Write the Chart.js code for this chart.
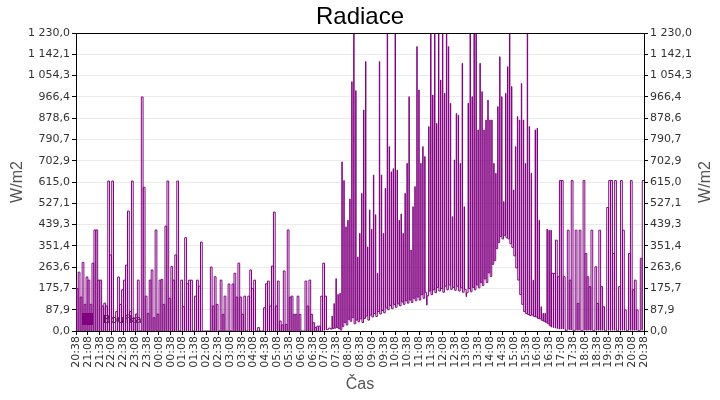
<!DOCTYPE html>
<html>
<head>
<meta charset="utf-8">
<script src="https://cdn.jsdelivr.net/npm/chart.js@4.4.0/dist/chart.umd.min.js"></script>
<style>
  html, body { margin: 0; padding: 0; background: #fff; }
</style>
</head>
<body>
<canvas id="radiace" width="720" height="400"></canvas>
<script>
// x axis labels, one every 30 minutes
var xTicks = [
    "20:38", "21:08", "21:38", "22:08", "22:38", "23:08", "23:38", "00:08", "00:38", "01:08",
    "01:38", "02:08", "02:38", "03:08", "03:38", "04:08", "04:38", "05:08", "05:38", "06:08",
    "06:38", "07:08", "07:38", "08:08", "08:38", "09:08", "09:38", "10:08", "10:38", "11:08",
    "11:38", "12:08", "12:38", "13:08", "13:38", "14:08", "14:38", "15:08", "15:38", "16:08",
    "16:38", "17:08", "17:38", "18:08", "18:38", "19:08", "19:38", "20:08", "20:38"
];
var yTicks = [
    "0,0", "87,9", "175,7", "263,6", "351,4", "439,3", "527,1", "615,0",
    "702,9", "790,7", "878,6", "966,4", "1 054,3", "1 142,1", "1 230,0"
];

var stepMin = 5;    // one sample every 5 minutes from 20:38

// peaks (W/m2), 20:38 - 07:18
var nightPeaks = [
    210, 175, 243, 140, 283, 110, 223, 210, 110, 280,
    417, 417, 210, 210, 103, 115, 103, 619, 314, 619,
    0, 80, 223, 110, 170, 210, 272, 495, 80, 619,
    52, 70, 210, 0, 966, 593, 144, 73, 210, 252,
    55, 417, 70, 210, 213, 110, 433, 619, 135, 266,
    210, 314, 619, 0, 210, 100, 385, 195, 210, 210,
    0, 144, 210, 185, 367, 0, 0, 0, 0, 264,
    103, 224, 110, 0, 210, 69, 144, 0, 194, 0,
    194, 238, 140, 280, 140, 69, 144, 0, 144, 252,
    175, 210, 0, 14, 0, 0, 96, 195, 206, 103,
    268, 491, 103, 206, 41, 25, 248, 27, 417, 140,
    144, 69, 69, 144, 69, 0, 0, 206, 103, 210,
    69, 34, 14, 20, 20, 144, 280, 144, 7
];
var nightFloor = [
    0, 0, 0, 0, 0, 0, 0, 0, 0, 0,
    0, 0, 0, 0, 0, 0, 0, 0, 0, 0,
    0, 0, 0, 0, 0, 0, 0, 0, 0, 0,
    0, 0, 0, 0, 0, 0, 0, 0, 0, 0,
    0, 0, 0, 0, 0, 0, 0, 0, 0, 0,
    0, 0, 0, 0, 0, 0, 0, 0, 0, 0,
    0, 0, 0, 0, 0, 0, 0, 0, 0, 0,
    0, 0, 0, 0, 0, 0, 0, 0, 0, 0,
    0, 0, 0, 0, 0, 0, 0, 0, 0, 0,
    0, 0, 0, 0, 0, 0, 0, 0, 0, 0,
    0, 0, 0, 0, 0, 0, 0, 0, 0, 0,
    0, 0, 0, 0, 0, 0, 0, 0, 0, 0,
    0, 0, 0, 0, 0, 0, 3, 5, 7
];

// 07:23 - 16:38
var dayPeaks = [
    12, 62, 113, 216, 151, 156, 698, 621, 430, 457,
    545, 1029, 1230, 992, 305, 403, 568, 912, 1112, 347,
    500, 420, 644, 480, 238, 1112, 644, 403, 589, 1230,
    761, 657, 670, 1230, 664, 457, 483, 403, 568, 692,
    967, 334, 513, 596, 1174, 995, 692, 761, 720, 107,
    844, 1230, 974, 1230, 857, 1230, 1036, 1230, 981, 1230,
    1174, 940, 472, 706, 898, 891, 692, 1105, 513, 142,
    940, 1230, 967, 1230, 1230, 830, 1105, 988, 830, 871,
    953, 871, 871, 692, 651, 926, 1132, 967, 534, 981,
    1091, 1230, 1009, 582, 761, 885, 871, 1022, 871, 692,
    1230, 844, 651, 210, 830, 837, 457, 100, 73, 73,
    420, 416
];
var dayFloor = [
    8, 10, 12, 14, 10, 4, 18, 35, 25, 48,
    40, 55, 30, 45, 38, 50, 35, 52, 62, 45,
    66, 58, 72, 60, 80, 70, 85, 75, 95, 88,
    105, 92, 110, 98, 112, 104, 120, 110, 125, 115,
    128, 118, 135, 125, 140, 128, 150, 135, 160, 145,
    165, 150, 170, 158, 180, 165, 175, 160, 185, 170,
    190, 172, 180, 168, 185, 165, 178, 160, 172, 158,
    175, 162, 180, 170, 190, 178, 200, 188, 215, 200,
    240, 225, 275, 290, 340, 365, 390, 380, 395, 385,
    380, 360, 345, 310, 260, 210, 150, 110, 80, 72,
    68, 64, 66, 60, 58, 52, 50, 44, 40, 36,
    30, 22
];

// 16:43 - 20:38
var eveningPeaks = [
    416, 238, 238, 375, 224, 621, 621, 224, 0, 416,
    210, 621, 0, 416, 114, 416, 0, 621, 320, 224,
    183, 416, 0, 265, 114, 416, 183, 100, 0, 510,
    621, 621, 320, 621, 0, 183, 621, 416, 87, 0,
    320, 621, 170, 210, 87, 0, 300, 621
];
var eveningFloor = [
    16, 14, 12, 10, 8, 8, 8, 8, 6, 5,
    4, 3, 3, 3, 3, 3, 3, 3, 3, 3,
    3, 3, 3, 3, 3, 3, 3, 3, 3, 3,
    3, 3, 3, 3, 3, 3, 3, 3, 3, 3,
    3, 3, 3, 3, 3, 3, 3, 3
];

// how many minutes a peak is held before it falls back to the floor
var nightSpike = 0.6;
var daySpike = 4;
var eveningSpike = 0.6;

var points = [];
var bin = 0;
function addSegment(peaks, floors, hold) {
    for (var i = 0; i < peaks.length; i++) {
        points.push({x: bin * stepMin, y: peaks[i]});
        points.push({x: bin * stepMin + hold, y: floors[i]});
        bin++;
    }
}
addSegment(nightPeaks, nightFloor, nightSpike);
addSegment(dayPeaks, dayFloor, daySpike);
addSegment(eveningPeaks, eveningFloor, eveningSpike);

var purple = '#800080';
var tickFont = {family: 'DejaVu Sans', size: 11};
var titleFont = {family: 'Liberation Sans', size: 16};

function yTickValues(scale) {
    scale.ticks = yTicks.map(function (t) {
        return {value: parseFloat(t.replace(/\s/g, '').replace(',', '.'))};
    });
}

// legend box inside the plot, border on top, right axis title
var extras = {
    id: 'extras',
    beforeDatasetsDraw: function (chart) {
        var ctx = chart.ctx, a = chart.chartArea;
        ctx.save();
        ctx.fillStyle = purple;
        ctx.fillRect(a.left + 6, a.bottom - 18, 11, 12);
        ctx.fillStyle = '#222';
        ctx.font = '11px "DejaVu Sans"';
        ctx.textBaseline = 'middle';
        ctx.fillText(chart.data.datasets[0].label, a.left + 27, a.bottom - 11);
        ctx.restore();
    },
    afterDraw: function (chart) {
        var ctx = chart.ctx, a = chart.chartArea;
        ctx.save();
        ctx.strokeStyle = '#000';
        ctx.lineWidth = 1;
        ctx.beginPath();
        ctx.moveTo(a.left, Math.round(a.top) + 0.5);
        ctx.lineTo(a.right, Math.round(a.top) + 0.5);
        ctx.stroke();
        ctx.translate(706, (a.top + a.bottom) / 2);
        ctx.rotate(-Math.PI / 2);
        ctx.fillStyle = '#555';
        ctx.font = '16px "Liberation Sans"';
        ctx.textAlign = 'center';
        ctx.textBaseline = 'middle';
        ctx.fillText('W/m2', 0, 0);
        ctx.restore();
    }
};

var ctx = document.getElementById('radiace').getContext('2d');
var chart = new Chart(ctx, {
    type: 'line',
    data: {
        datasets: [{
            label: 'Bouřka',
            data: points,
            borderColor: purple,
            borderWidth: 1,
            pointRadius: 0,
            stepped: 'after',
            fill: false
        }]
    },
    options: {
        responsive: false,
        animation: false,
        layout: {padding: 0},
        plugins: {
            legend: {display: false},
            tooltip: {enabled: false},
            title: {
                display: true,
                text: 'Radiace',
                color: '#000',
                font: {family: 'Liberation Sans', size: 24, weight: 'normal'},
                padding: {top: 3, bottom: 1.2}
            }
        },
        scales: {
            x: {
                type: 'linear',
                min: 0,
                max: 1440,
                afterBuildTicks: function (scale) {
                    scale.ticks = xTicks.map(function (t, i) { return {value: i * 30}; });
                },
                afterFit: function (scale) { scale.height = 69; },
                ticks: {
                    autoSkip: false,
                    maxRotation: 90,
                    minRotation: 90,
                    padding: 1,
                    color: '#333',
                    font: tickFont,
                    callback: function (v, i) { return xTicks[i]; }
                },
                grid: {drawOnChartArea: false, tickLength: 4, tickColor: '#000'},
                border: {color: '#000'},
                title: {display: true, text: 'Čas', color: '#555', font: titleFont, padding: {top: 0, bottom: 6}}
            },
            y: {
                position: 'left',
                min: 0,
                max: 1230,
                afterBuildTicks: yTickValues,
                afterFit: function (scale) { scale.width = 76; },
                ticks: {
                    padding: 2,
                    color: '#333',
                    font: tickFont,
                    callback: function (v, i) { return yTicks[i]; }
                },
                grid: {color: '#ebebeb', tickLength: 4, tickColor: '#000'},
                border: {color: '#000'},
                title: {display: true, text: 'W/m2', color: '#555', font: titleFont, padding: {top: 8, bottom: 0}}
            },
            y2: {
                position: 'right',
                min: 0,
                max: 1230,
                afterBuildTicks: yTickValues,
                afterFit: function (scale) { scale.width = 76; },
                ticks: {
                    padding: 2,
                    color: '#333',
                    font: tickFont,
                    callback: function (v, i) { return yTicks[i]; }
                },
                grid: {drawOnChartArea: false, tickLength: 4, tickColor: '#000'},
                border: {color: '#000'}
            }
        }
    },
    plugins: [extras]
});
</script>
</body>
</html>
